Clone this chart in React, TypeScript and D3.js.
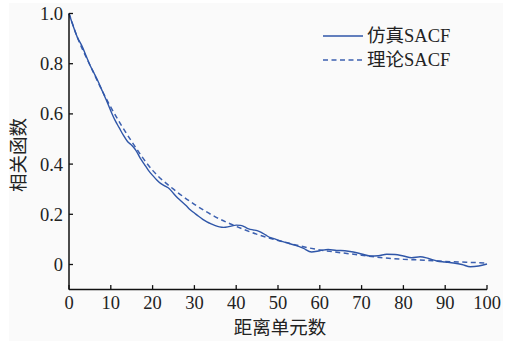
import * as d3 from 'd3';

// lag (distance cells) and correlation
const simLag = [0, 1, 2, 3, 4, 5, 6, 7, 8, 9, 10, 11, 12, 13, 14, 15, 16, 17, 18, 19, 20, 21, 22, 23, 24, 25, 26, 27, 28, 29, 30, 31, 32, 33, 34, 35, 36, 37, 38, 39, 40, 41, 42, 43, 44, 45, 46, 47, 48, 49, 50, 52, 54, 56, 58, 60, 62, 64, 66, 68, 70, 72, 74, 76, 78, 80, 82, 84, 86, 88, 90, 92, 94, 96, 98, 100];
const simValue = [1.0, 0.95, 0.905, 0.874, 0.835, 0.795, 0.762, 0.728, 0.69, 0.652, 0.612, 0.575, 0.545, 0.515, 0.49, 0.475, 0.455, 0.425, 0.4, 0.375, 0.355, 0.337, 0.322, 0.312, 0.302, 0.283, 0.265, 0.25, 0.235, 0.218, 0.205, 0.192, 0.18, 0.17, 0.162, 0.155, 0.15, 0.148, 0.15, 0.154, 0.157, 0.156, 0.15, 0.142, 0.138, 0.135, 0.128, 0.118, 0.108, 0.103, 0.097, 0.087, 0.077, 0.065, 0.05, 0.055, 0.06, 0.056, 0.055, 0.05, 0.042, 0.034, 0.035, 0.041, 0.04, 0.034, 0.027, 0.031, 0.024, 0.014, 0.01, 0.006, 0.0, -0.009, -0.006, 0.002];

const theoLag = [0, 2, 5, 8, 10, 15, 20, 25, 30, 35, 40, 45, 50, 55, 60, 65, 70, 75, 80, 85, 90, 95, 100];
const theoValue = [1.0, 0.905, 0.795, 0.69, 0.627, 0.49, 0.375, 0.3, 0.24, 0.19, 0.152, 0.12, 0.096, 0.075, 0.058, 0.047, 0.037, 0.027, 0.021, 0.017, 0.012, 0.009, 0.006];

const xTicks = [0, 10, 20, 30, 40, 50, 60, 70, 80, 90, 100];
const yTicks = [0, 0.2, 0.4, 0.6, 0.8, 1.0];
const legendLabels = ['仿真SACF', '理论SACF'];

const W = 516;
const H = 342;
const font = '"Liberation Serif", "Times New Roman", "Noto Sans CJK SC", serif';
const cjkFont = '"Noto Sans CJK SC", "Liberation Serif", serif';
const blue = '#2f56a8';

export default function App() {
  const x = d3.scaleLinear().domain([0, 100]).range([69, 487]);
  const y = d3.scaleLinear().domain([-0.1, 1.0]).range([289.6, 13.5]);

  const line = d3
    .line<[number, number]>()
    .x(d => x(d[0]))
    .y(d => y(d[1]))
    .curve(d3.curveMonotoneX);

  const simPts = simLag.map((l, i) => [l, simValue[i]] as [number, number]);
  const theoPts = theoLag.map((l, i) => [l, theoValue[i]] as [number, number]);

  const y0 = y(-0.1);

  return (
    <svg width={W} height={H} style={{ position: 'absolute', left: 0, top: 0 }}>
      <rect x={0} y={0} width={W} height={H} fill="#ffffff" />
      <rect x={9} y={3} width={494} height={338} fill="#fafafa" />

      {/* series */}
      <path d={line(theoPts) ?? ''} fill="none" stroke="#3c60b0" strokeWidth={1.5} strokeDasharray="5,3.5" />
      <path d={line(simPts) ?? ''} fill="none" stroke={blue} strokeWidth={1.4} />

      {/* axes */}
      <line x1={x(0)} x2={x(0)} y1={y(1.0)} y2={y0} stroke="#111" strokeWidth={1.5} />
      <line x1={x(0)} x2={x(100)} y1={y0} y2={y0} stroke="#111" strokeWidth={1.5} />
      {yTicks.map(t => (
        <g key={'y' + t}>
          <line x1={x(0)} x2={x(0) + 4} y1={y(t)} y2={y(t)} stroke="#111" strokeWidth={1.3} />
          <text x={63} y={y(t)} dy="0.35em" textAnchor="end" fontFamily={font} fontSize={18.5} fill="#222">
            {t === 0 ? '0' : t.toFixed(1)}
          </text>
        </g>
      ))}
      {xTicks.map(t => (
        <g key={'x' + t}>
          <line x1={x(t)} x2={x(t)} y1={y0} y2={y0 - 4.5} stroke="#111" strokeWidth={1.3} />
          <text x={x(t)} y={309} textAnchor="middle" fontFamily={font} fontSize={18.5} fill="#222">
            {t}
          </text>
        </g>
      ))}

      {/* axis titles */}
      <text x={280} y={328} dy="0.35em" textAnchor="middle" fontFamily={cjkFont} fontSize={18.5} fill="#222">
        距离单元数
      </text>
      <text
        transform="translate(19,155) rotate(-90)"
        dy="0.35em"
        textAnchor="middle"
        fontFamily={cjkFont}
        fontSize={18.5}
        fill="#222"
      >
        相关函数
      </text>

      {/* legend */}
      <line x1={323} x2={363} y1={36} y2={36} stroke={blue} strokeWidth={1.4} />
      <line x1={323} x2={363} y1={60} y2={60} stroke="#3c60b0" strokeWidth={1.5} strokeDasharray="5,3.5" />
      {legendLabels.map((lab, i) => (
        <text key={lab} x={367} y={36 + i * 24} dy="0.35em" fontFamily={font} fontSize={18.5} fill="#222">
          {lab}
        </text>
      ))}
    </svg>
  );
}
